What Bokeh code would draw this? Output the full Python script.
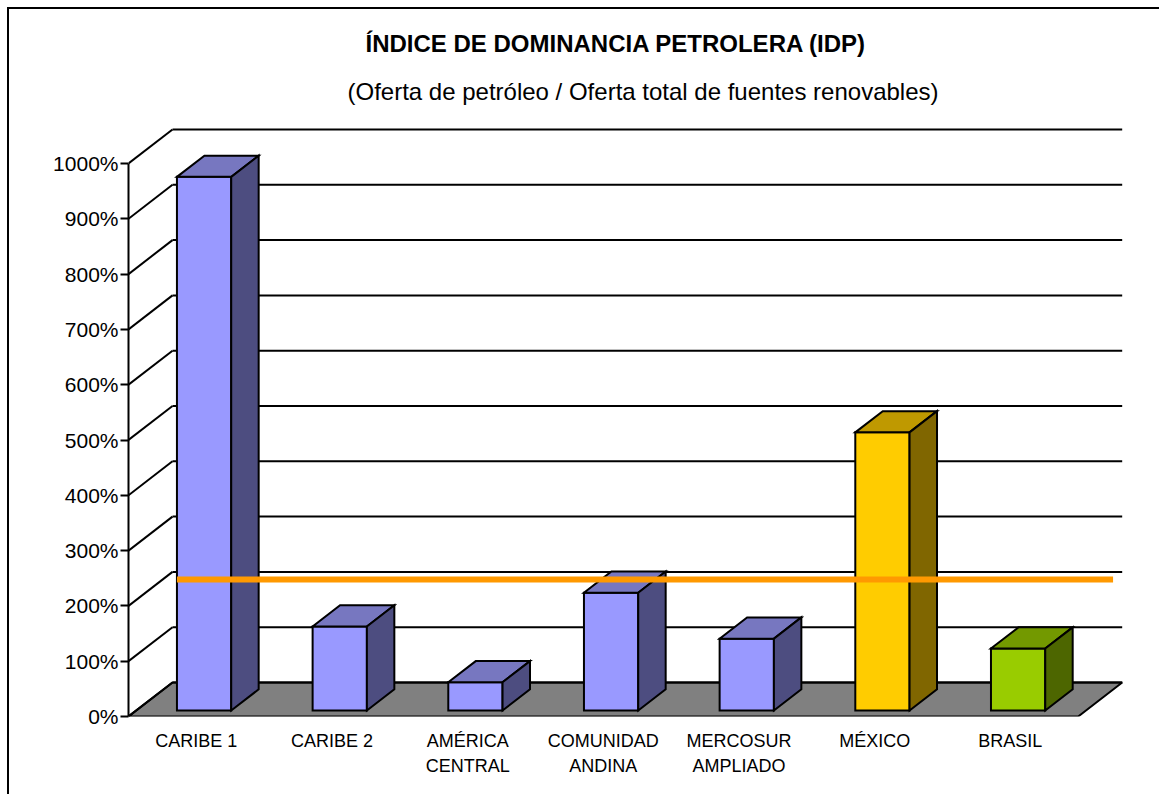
from bokeh.plotting import figure
from bokeh.layouts import column
from bokeh.models import Range1d, FixedTicker, PrintfTickFormatter, Title, ColumnDataSource, Div
from bokeh.embed import file_html
from bokeh.resources import INLINE

# ---------------- data ----------------
categorias = ["CARIBE 1", "CARIBE 2", "AMÉRICA\nCENTRAL", "COMUNIDAD\nANDINA",
              "MERCOSUR\nAMPLIADO", "MÉXICO", "BRASIL"]
idp = [965, 152, 51, 213, 130, 503, 112]          # IDP, %
promedio = 237                                      # reference line, %
y_ticks = [0, 100, 200, 300, 400, 500, 600, 700, 800, 900, 1000]

titulo = "ÍNDICE DE DOMINANCIA PETROLERA (IDP)"
subtitulo = "(Oferta de petróleo / Oferta total de fuentes renovables)"

# ---------------- style ----------------
grupo = ["azul", "azul", "azul", "azul", "azul", "mexico", "brasil"]
paleta = {
    "azul":   ("#9999FF", "#7777C0", "#4D4D80"),
    "mexico": ("#FFCC00", "#BF9900", "#806600"),
    "brasil": ("#99CC00", "#739900", "#4D6600"),
}
FONT = "Liberation Sans"

# ---------------- layout ----------------
W, H = 1150, 785
LEFT, TOP, BOTTOM = 119, 106, 78
PX_CAT = 135.67          # px per category
PX_PCT = 0.553           # px per percent point
DX = 44 / PX_CAT         # full depth, category units
DY = 34 / PX_PCT         # full depth, percent units
Z0, Z1 = 0.176, 0.80     # bar depth span (fraction of floor depth)
BW = 0.4                 # bar width (category units)

n = len(categorias)
frame_w = W - LEFT
frame_h = H - TOP - BOTTOM

def proj(x, y, z):
    return x + z * DX, y + z * DY

p = figure(width=W, height=H, output_backend="svg", toolbar_location=None,
           x_range=Range1d(0, frame_w / PX_CAT), y_range=Range1d(0, frame_h / PX_PCT),
           min_border_left=LEFT, min_border_right=0, min_border_top=TOP,
           min_border_bottom=BOTTOM, title=None)
p.styles = {"border-left": "2px solid black"}
p.margin = (0, 0, 0, 0)
p.outline_line_color = None
p.xgrid.grid_line_color = None
p.ygrid.grid_line_color = None
p.background_fill_color = "white"
p.border_fill_color = "white"

# chart-area top border
borde = Div(text="", width=W + 2, height=2, margin=(0, 0, 0, 0),
            styles={"background-color": "black"})

# titles
p.add_layout(Title(text=subtitulo, align="left", offset=219, standoff=21,
                   text_font=FONT, text_font_size="24px", text_font_style="normal",
                   text_color="black"), "above")
p.add_layout(Title(text=titulo, align="left", offset=237, standoff=17,
                   text_font=FONT, text_font_size="24px", text_font_style="bold",
                   text_color="black"), "above")

# floor
fx, fy = [], []
for (x, y, z) in [(0, 0, 0), (n, 0, 0), (n, 0, 1), (0, 0, 1)]:
    a, b = proj(x, y, z)
    fx.append(a); fy.append(b)
p.patch(fx, fy, fill_color="#808080", line_color="black", line_width=2)

# back wall gridlines and side-wall diagonals
gx, gy, sx, sy = [], [], [], []
for t in y_ticks:
    a0, b0 = proj(0, t, 1)
    a1, b1 = proj(n, t, 1)
    gx.append([a0, a1]); gy.append([b0, b1])
    sx.append([0, a0]); sy.append([t, b0])
p.multi_line(gx, gy, line_color="black", line_width=2)
p.multi_line(sx, sy, line_color="black", line_width=2)

# 3D bars
xs, ys, cols = [], [], []
for i, (v, g) in enumerate(zip(idp, grupo)):
    L = i + 0.5 - BW / 2
    R = i + 0.5 + BW / 2
    front = [(L, 0, Z0), (R, 0, Z0), (R, v, Z0), (L, v, Z0)]
    top = [(L, v, Z0), (R, v, Z0), (R, v, Z1), (L, v, Z1)]
    side = [(R, 0, Z0), (R, 0, Z1), (R, v, Z1), (R, v, Z0)]
    for face, col in zip((front, top, side), paleta[g]):
        pts = [proj(*q) for q in face]
        xs.append([q[0] for q in pts]); ys.append([q[1] for q in pts]); cols.append(col)
src = ColumnDataSource(dict(xs=xs, ys=ys, color=cols))
p.patches("xs", "ys", source=src, fill_color="color", line_color="black",
          line_width=2, line_join="miter")

# reference line
lx0, ly = proj(0.5 - BW / 2, promedio, Z0)
lx1, _ = proj(n + 0.2, promedio, Z0)
p.line([lx0, lx1], [ly, ly], line_color="#FF9900", line_width=6)

# y axis (front)
ya = p.yaxis[0]
ya.ticker = FixedTicker(ticks=y_ticks)
ya.formatter = PrintfTickFormatter(format="%d%%")
ya.bounds = (0, 1000)
ya.axis_line_color = "black"
ya.axis_line_width = 2
ya.major_tick_line_color = "black"
ya.major_tick_line_width = 2
ya.major_tick_out = 8
ya.major_tick_in = 0
ya.minor_tick_line_color = None
ya.major_label_standoff = 2
ya.major_label_text_font = FONT
ya.major_label_text_font_size = "21px"
ya.major_label_text_color = "black"

# x axis (categories)
xa = p.xaxis[0]
centers = [i + 0.5 for i in range(n)]
xa.ticker = FixedTicker(ticks=centers)
xa.major_label_overrides = {c: lab for c, lab in zip(centers, categorias)}
xa.axis_line_color = None
xa.major_tick_line_color = None
xa.minor_tick_line_color = None
xa.major_label_standoff = 8
xa.major_label_text_font = FONT
xa.major_label_text_font_size = "18px"
xa.major_label_text_line_height = 1.27
xa.major_label_text_color = "black"

layout = column(borde, p, spacing=0, margin=(0, 0, 0, 0),
                styles={"margin-left": "7px", "margin-top": "7px"})

open("out.html", "w").write(file_html(layout, INLINE))
